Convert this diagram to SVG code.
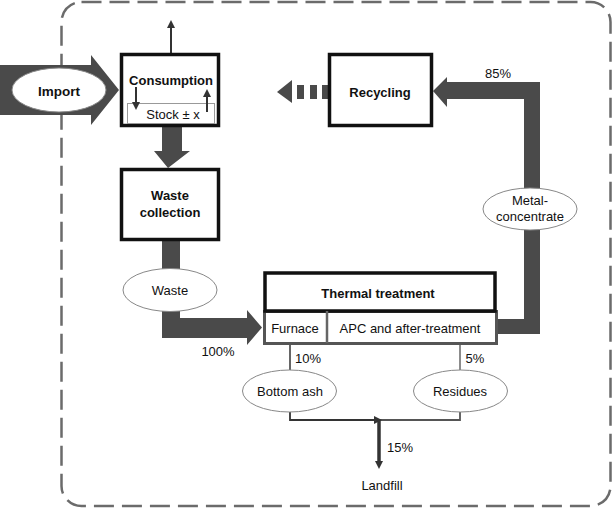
<svg xmlns="http://www.w3.org/2000/svg" width="615" height="508" viewBox="0 0 615 508">
<defs>
<style>
text{font-family:"Liberation Sans",Arial,sans-serif;font-size:13px;fill:#111;text-anchor:middle}
.b{font-weight:bold}
.box{fill:#fff;stroke:#111;stroke-width:3.5}
.ell{fill:#fff;stroke:#888;stroke-width:1}
.flow{fill:#4a4a4a}
.thin{fill:none;stroke:#333;stroke-width:1.8}
.thing{fill:none;stroke:#666;stroke-width:1.5}
</style>
<marker id="ah" markerWidth="8" markerHeight="8" refX="4" refY="4" orient="auto" markerUnits="userSpaceOnUse">
<path d="M0,0 L8,4 L0,8 Z" fill="#333"/>
</marker>
</defs>
<rect x="61.5" y="2" width="549" height="504" rx="20" fill="none" stroke="#6b6b6b" stroke-width="2.5" stroke-dasharray="20 8"/>
<g id="connectors">
<path class="flow" d="M0,65 H91 V55 L119,90 L91,125 V115 H0 Z"/>
<path class="flow" d="M162,127 H182 V151 H190 L168,168 L154,151 H162 Z"/>
<path class="flow" d="M162,240 H180 V318 H247 V310 L262,327.5 L247,345 V338 H162 Z"/>
<path class="flow" d="M497,319 H524 V99 H447 V107 L433,91 L447,77 V82 H540 V334 H497 Z"/>
<path class="flow" d="M277,92 L292,80 V103 Z"/>
<rect class="flow" x="297" y="85" width="7" height="14"/>
<rect class="flow" x="310" y="85" width="7" height="14"/>
<rect class="flow" x="322" y="85" width="7" height="14"/>
<line x1="171" y1="53" x2="171" y2="24" stroke="#333" stroke-width="2" marker-end="url(#ah)"/>
<line x1="290" y1="345" x2="290" y2="370" stroke="#333" stroke-width="1.5"/>
<line x1="460" y1="345" x2="460" y2="370" stroke="#666" stroke-width="1.5"/>
<path class="thin" d="M290,412 V420 H378"/>
<path class="thin" d="M379,420 H460 V412" style="stroke:#555"/>
<line x1="372" y1="420" x2="378" y2="420" stroke="#333" stroke-width="1.5" marker-end="url(#ah)"/>
<line x1="379" y1="420" x2="379" y2="465" stroke="#333" stroke-width="3.5" marker-end="url(#ah)"/>
</g>
<g id="import">
<ellipse class="ell" cx="59" cy="90" rx="47" ry="22"/>
<text class="b" x="59" y="96" style="font-size:13.5px">Import</text>
</g>
<g id="consumption">
<rect class="box" x="121.5" y="54.5" width="97" height="71"/>
<text class="b" x="171" y="85">Consumption</text>
<rect x="127.5" y="103.5" width="87" height="20" fill="none" stroke="#999" stroke-width="1"/>
<text x="173" y="119">Stock ± x</text>
<line x1="136" y1="87" x2="136" y2="106" stroke="#333" stroke-width="2" marker-end="url(#ah)"/>
<line x1="207" y1="112" x2="207" y2="93" stroke="#333" stroke-width="2" marker-end="url(#ah)"/>
</g>
<g id="waste-collection">
<rect class="box" x="121.5" y="169.5" width="97" height="70"/>
<text class="b" x="170" y="200">Waste</text>
<text class="b" x="170" y="217">collection</text>
</g>
<g id="recycling">
<rect class="box" x="329.5" y="54.5" width="102" height="71"/>
<text class="b" x="380" y="97">Recycling</text>
</g>
<g id="metal-concentrate">
<ellipse class="ell" cx="530" cy="209" rx="47" ry="21"/>
<text x="530" y="205">Metal-</text>
<text x="530" y="221">concentrate</text>
</g>
<g id="waste">
<ellipse class="ell" cx="170" cy="290" rx="47" ry="21.5"/>
<text x="170" y="295">Waste</text>
</g>
<g id="thermal-treatment">
<rect x="264.5" y="311.5" width="232" height="32" fill="#fff" stroke="#555" stroke-width="3"/>
<rect x="265" y="273" width="230" height="38" fill="#fff" stroke="#111" stroke-width="3.5"/>
<line x1="327" y1="311" x2="327" y2="343" stroke="#666" stroke-width="2.5"/>
<text class="b" x="378" y="298">Thermal treatment</text>
<text x="295" y="333">Furnace</text>
<text x="410" y="333">APC and after-treatment</text>
</g>
<g id="bottom-ash">
<ellipse class="ell" cx="289.5" cy="391" rx="47" ry="21"/>
<text x="290" y="396">Bottom ash</text>
</g>
<g id="residues">
<ellipse class="ell" cx="460.5" cy="391" rx="47" ry="21"/>
<text x="460" y="396">Residues</text>
</g>
<g id="labels">
<text x="498" y="78">85%</text>
<text x="218" y="356">100%</text>
<text x="308" y="363">10%</text>
<text x="475" y="363">5%</text>
<text x="400" y="452">15%</text>
<text x="382" y="490">Landfill</text>
</g>
</svg>
